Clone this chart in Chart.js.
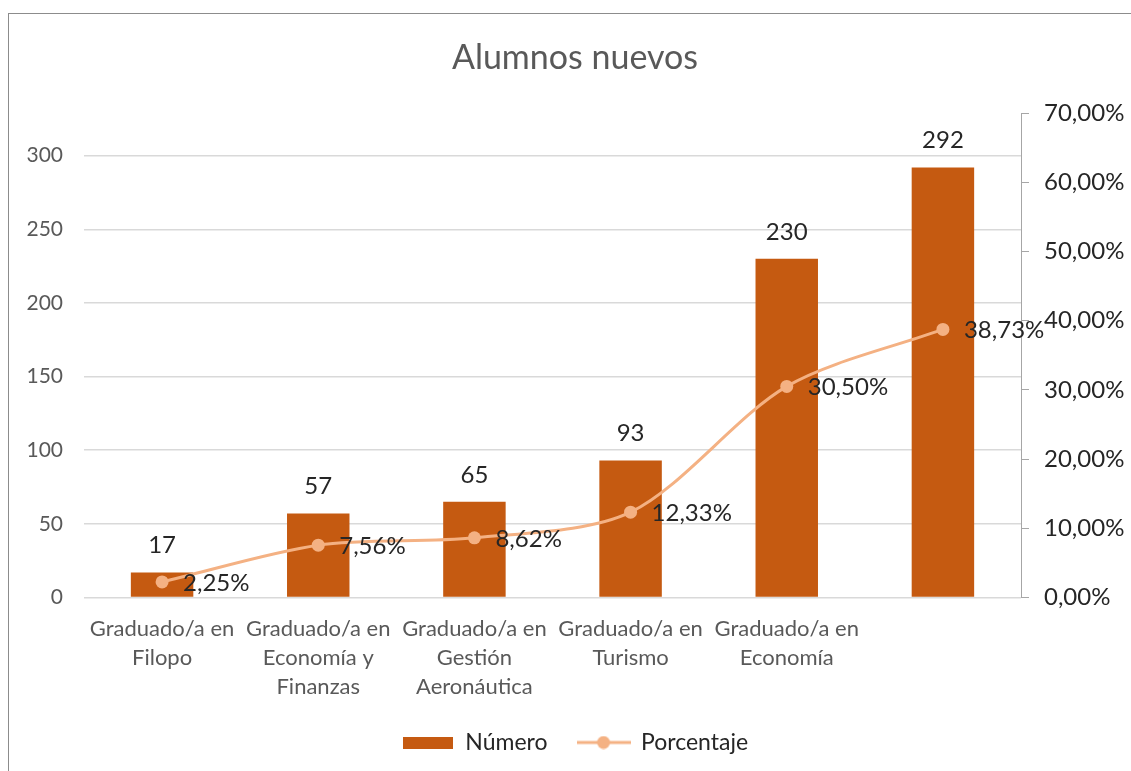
<!DOCTYPE html>
<html>
<head>
<meta charset="utf-8">
<script src="https://cdn.jsdelivr.net/npm/chart.js"></script>
<style>
body { margin: 0; background: #fff; }
#marco { position: absolute; left: 8px; top: 13px; width: 1130px; height: 765px;
  border-left: 1px solid #8c8c8c; border-top: 1px solid #8c8c8c; }
</style>
</head>
<body>
<div id="marco"><canvas id="grafico" width="1122" height="757"></canvas></div>
<script>
var categorias = [
    ["Graduado/a en", "Filopo"],
    ["Graduado/a en", "Economía y", "Finanzas"],
    ["Graduado/a en", "Gestión", "Aeronáutica"],
    ["Graduado/a en", "Turismo"],
    ["Graduado/a en", "Economía"],
    ""
];
var numero = [17, 57, 65, 93, 230, 292];
var porcentaje = [2.25, 7.56, 8.62, 12.33, 30.50, 38.73];
var ticksNumero = [0, 50, 100, 150, 200, 250, 300];
var ticksPorcentaje = [0, 10, 20, 30, 40, 50, 60, 70];

var colorBarra = "#C55A11";
var colorLinea = "#F4B183";

function formato(v) {
    return v.toFixed(2).replace(".", ",") + "%";
}

// muestras de la leyenda
var muestraBarra = document.createElement("canvas");
muestraBarra.width = 50; muestraBarra.height = 12;
var c1 = muestraBarra.getContext("2d");
c1.fillStyle = colorBarra;
c1.fillRect(0, 0, 50, 12);

var muestraLinea = document.createElement("canvas");
muestraLinea.width = 54; muestraLinea.height = 14;
var c2 = muestraLinea.getContext("2d");
c2.strokeStyle = colorLinea; c2.lineWidth = 3;
c2.beginPath(); c2.moveTo(0, 7); c2.lineTo(54, 7); c2.stroke();
c2.fillStyle = colorLinea;
c2.beginPath(); c2.arc(27, 7, 6.5, 0, Math.PI * 2); c2.fill();

var etiquetas = {
    id: "etiquetas",
    afterDatasetsDraw: function(chart) {
        var ctx = chart.ctx;
        ctx.save();
        ctx.font = "24px Lato";
        ctx.fillStyle = "#262626";
        ctx.textBaseline = "middle";
        ctx.textAlign = "center";
        chart.getDatasetMeta(0).data.forEach(function(b, i) {
            ctx.fillText(numero[i], b.x, b.y - 27);
        });
        ctx.textAlign = "left";
        chart.getDatasetMeta(1).data.forEach(function(p, i) {
            ctx.fillText(formato(porcentaje[i]), p.x + 21, p.y + 1);
        });
        ctx.restore();
    }
};

Chart.defaults.font.family = "Lato";

var ctx = document.getElementById("grafico");
var grafico = new Chart(ctx, {
    data: {
        labels: categorias,
        datasets: [{
            type: "bar",
            label: "Número",
            data: numero,
            backgroundColor: colorBarra,
            barPercentage: 0.8,
            categoryPercentage: 0.5,
            yAxisID: "y",
            order: 2
        }, {
            type: "line",
            label: "Porcentaje",
            data: porcentaje,
            borderColor: colorLinea,
            backgroundColor: colorLinea,
            borderWidth: 3,
            pointRadius: 6.5,
            pointBackgroundColor: colorLinea,
            pointBorderWidth: 0,
            tension: 0.3,
            yAxisID: "y1",
            order: 1
        }]
    },
    options: {
        responsive: false,
        animation: false,
        layout: { padding: { left: 10, right: 0, top: 0, bottom: 7 } },
        plugins: {
            title: {
                display: true,
                text: "Alumnos nuevos",
                color: "#595959",
                font: { size: 34, weight: "normal" },
                padding: { top: 23.6, bottom: 34.6 }
            },
            legend: {
                position: "bottom",
                labels: {
                    usePointStyle: true,
                    pointStyleWidth: 52,
                    boxHeight: 14,
                    padding: 30,
                    color: "#262626",
                    font: { size: 23 },
                    sort: function(a, b) { return a.datasetIndex - b.datasetIndex; },
                    generateLabels: function(chart) {
                        var items = Chart.defaults.plugins.legend.labels.generateLabels(chart);
                        items.forEach(function(it) {
                            it.pointStyle = it.datasetIndex === 0 ? muestraBarra : muestraLinea;
                        });
                        return items;
                    }
                }
            },
            tooltip: { enabled: false }
        },
        scales: {
            x: {
                grid: { display: false },
                border: { display: false },
                ticks: {
                    color: "#595959",
                    font: { size: 22, lineHeight: 1.32 },
                    maxRotation: 0,
                    autoSkip: false,
                    padding: 9
                },
                afterFit: function(s) { s.height = 103.5; }
            },
            y: {
                position: "left",
                min: 0,
                max: 329,
                afterBuildTicks: function(s) {
                    s.ticks = ticksNumero.map(function(v) { return { value: v }; });
                },
                grid: { color: "#D9D9D9", lineWidth: 1.5, drawTicks: false },
                border: { display: false },
                ticks: { color: "#595959", font: { size: 21 }, padding: 21 },
                afterFit: function(s) { s.width = 65; }
            },
            y1: {
                position: "right",
                min: 0,
                max: 70,
                afterBuildTicks: function(s) {
                    s.ticks = ticksPorcentaje.map(function(v) { return { value: v }; });
                },
                grid: { drawOnChartArea: false, color: "#A6A6A6", tickLength: 8 },
                border: { display: true, color: "#A6A6A6" },
                ticks: {
                    color: "#262626",
                    font: { size: 24 },
                    padding: 15,
                    callback: function(v) { return formato(v); }
                },
                afterFit: function(s) { s.width = 110; }
            }
        }
    },
    plugins: [etiquetas]
});
</script>
</body>
</html>
